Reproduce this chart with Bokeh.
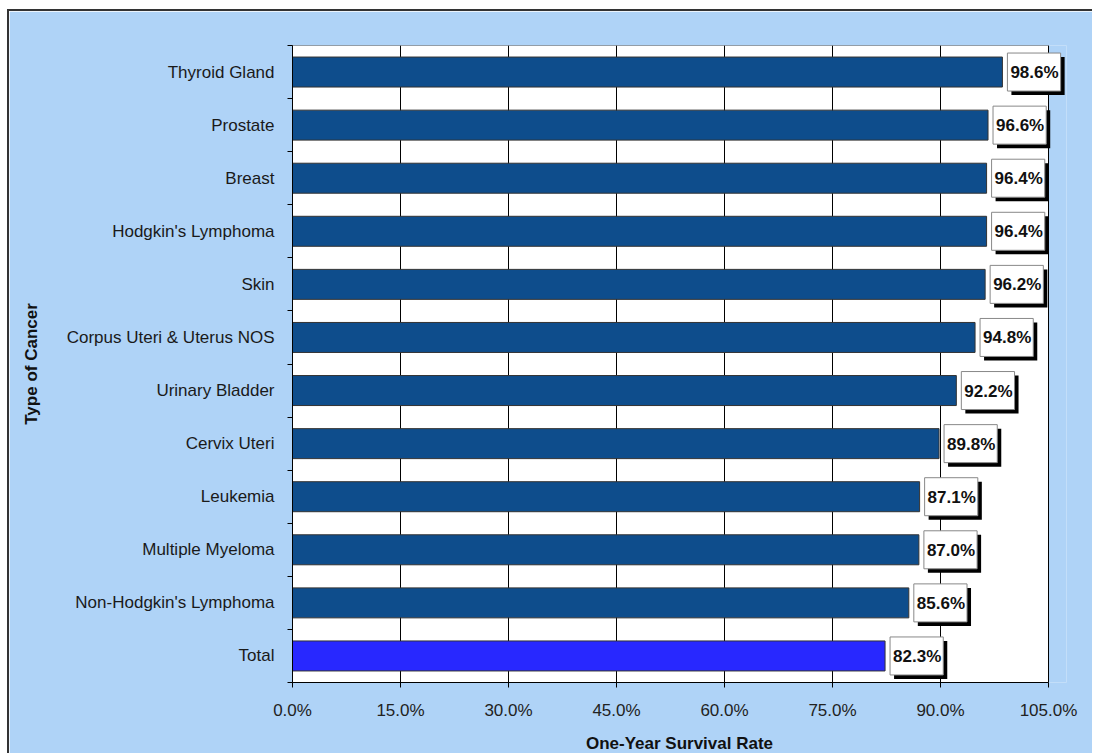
from bokeh.plotting import figure
from bokeh.models import ColumnDataSource, FixedTicker, Range1d, Label
from bokeh.embed import file_html
from bokeh.resources import INLINE

categories = ["Total", "Non-Hodgkin's Lymphoma", "Multiple Myeloma", "Leukemia",
              "Cervix Uteri", "Urinary Bladder", "Corpus Uteri & Uterus NOS", "Skin",
              "Hodgkin's Lymphoma", "Breast", "Prostate", "Thyroid Gland"]
survival = [82.3, 85.6, 87.0, 87.1, 89.8, 92.2, 94.8, 96.2, 96.4, 96.4, 96.6, 98.6]
bar_colors = ["#2828FF"] + ["#0E4D8C"] * 11
x_ticks = [0, 15, 30, 45, 60, 75, 90, 105]

FONT = "Liberation Sans"
BG = "#AFD3F7"

n = len(categories)
pos = [i + 0.5 for i in range(n)]
src = ColumnDataSource(dict(y=pos, v=survival, c=bar_colors))
x_min, x_max = x_ticks[0], x_ticks[-1]

# the frame is a little wider than the axis so that value boxes near 105% are not clipped
p = figure(width=1085, height=744, output_backend="svg", toolbar_location=None,
           x_range=Range1d(x_min, x_max + 2.5), y_range=Range1d(0, n),
           min_border_left=283, min_border_top=34, min_border_right=28, min_border_bottom=73)
p.styles = {"border-top": "2px solid #333333", "border-left": "2px solid #333333",
            "margin-left": "7px", "margin-top": "9px"}
p.background_fill_color = BG
p.border_fill_color = BG
p.outline_line_color = None

# white plot area between axis limits
p.quad(left=[x_min], right=[x_max], bottom=[0], top=[n], fill_color="white",
       line_color="#555555", line_width=1)
# vertical gridlines
p.segment(x0=x_ticks, x1=x_ticks, y0=[0] * len(x_ticks), y1=[n] * len(x_ticks),
          line_color="black", line_width=1)

p.hbar(y="y", right="v", left=0, height=0.565, fill_color="c", line_color="#333333",
       line_width=1, source=src)

pad = dict(left=3, right=2, top=10, bottom=9)
for v, yy in zip(survival, pos):
    txt = f"{v:.1f}%"
    p.add_layout(Label(x=v, y=yy, text=txt, x_offset=5 + 4, y_offset=-4,
                       text_baseline="middle", text_align="left", text_font=FONT,
                       text_font_size="17px", text_font_style="bold", text_color="black",
                       background_fill_color="black", padding=pad))
    p.add_layout(Label(x=v, y=yy, text=txt, x_offset=5, y_offset=0,
                       text_baseline="middle", text_align="left", text_font=FONT,
                       text_font_size="17px", text_font_style="bold", text_color="#111111",
                       background_fill_color="white", border_line_color="#888888",
                       border_line_width=1, padding=pad))

# x axis
p.xaxis.bounds = (x_min, x_max)
p.xaxis.ticker = FixedTicker(ticks=x_ticks, minor_ticks=[])
p.xaxis.major_label_overrides = {t: f"{t:.1f}%" for t in x_ticks}
p.xaxis.major_tick_out = 5
p.xaxis.major_tick_in = 0
p.xaxis.major_tick_line_color = "black"
p.xaxis.axis_line_color = "black"
p.xaxis.major_label_standoff = 13
p.xaxis.major_label_text_font = FONT
p.xaxis.major_label_text_font_size = "17px"
p.xaxis.major_label_text_color = "#222222"
p.xaxis.axis_label = "One-Year Survival Rate"
p.xaxis.axis_label_text_font = FONT
p.xaxis.axis_label_text_font_size = "17px"
p.xaxis.axis_label_text_font_style = "bold"
p.xaxis.axis_label_text_color = "#111111"
p.xaxis.axis_label_standoff = 11
p.xaxis.axis_label_align = "center"

# y axis
p.yaxis.ticker = FixedTicker(ticks=pos, minor_ticks=list(range(n + 1)))
p.yaxis.major_label_overrides = {y: c for y, c in zip(pos, categories)}
p.yaxis.major_tick_out = 0
p.yaxis.major_tick_in = 0
p.yaxis.minor_tick_out = 5
p.yaxis.minor_tick_in = 0
p.yaxis.minor_tick_line_color = "black"
p.yaxis.axis_line_color = "black"
p.yaxis.major_label_standoff = 13
p.yaxis.major_label_text_font = FONT
p.yaxis.major_label_text_font_size = "17px"
p.yaxis.major_label_text_color = "#1a1a1a"
p.yaxis.axis_label = "Type of Cancer"
p.yaxis.axis_label_text_font = FONT
p.yaxis.axis_label_text_font_size = "17px"
p.yaxis.axis_label_text_font_style = "bold"
p.yaxis.axis_label_text_color = "#111111"
p.yaxis.axis_label_standoff = 23

p.xgrid.grid_line_color = None
p.ygrid.grid_line_color = None

open("out.html", "w").write(file_html(p, INLINE))
